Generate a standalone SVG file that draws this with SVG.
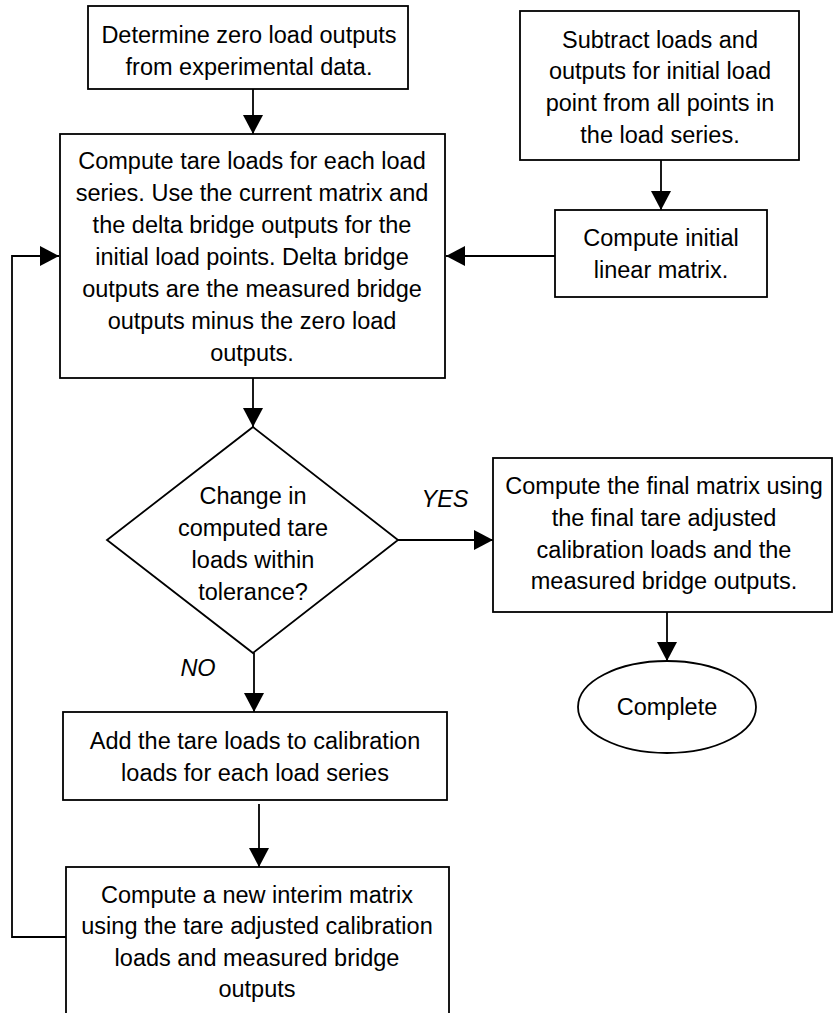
<svg xmlns="http://www.w3.org/2000/svg" width="838" height="1013" viewBox="0 0 838 1013">
<style>
.box{fill:#fff;stroke:#000;stroke-width:1.8}
.ln{fill:none;stroke:#000;stroke-width:1.8}
text{font-family:"Liberation Sans",Arial,sans-serif;font-size:23.5px;fill:#000;text-anchor:middle}
.it{font-style:italic}
</style>
<defs>
<marker id="ah" markerUnits="userSpaceOnUse" markerWidth="19" markerHeight="20" refX="19" refY="10" orient="auto">
<path d="M0,0 L19,10 L0,20 z" fill="#000"/>
</marker>
</defs>
<rect width="838" height="1013" fill="#fff"/>
<g id="connectors">
<line class="ln" x1="253" y1="89" x2="253" y2="134" marker-end="url(#ah)"/>
<line class="ln" x1="661" y1="160" x2="661" y2="210" marker-end="url(#ah)"/>
<line class="ln" x1="555" y1="256" x2="446" y2="256" marker-end="url(#ah)"/>
<polyline class="ln" points="66,937 12,937 12,256 59,256" marker-end="url(#ah)"/>
<line class="ln" x1="253" y1="378" x2="253" y2="427" marker-end="url(#ah)"/>
<line class="ln" x1="398" y1="540" x2="493" y2="540" marker-end="url(#ah)"/>
<line class="ln" x1="667" y1="612" x2="667" y2="661" marker-end="url(#ah)"/>
<line class="ln" x1="254" y1="653" x2="254" y2="712" marker-end="url(#ah)"/>
<line class="ln" x1="259" y1="804" x2="259" y2="867" marker-end="url(#ah)"/>
</g>
<g id="n1">
<rect class="box" x="88" y="6" width="320" height="83"/>
<text x="249" y="43">Determine zero load outputs</text>
<text x="249" y="75">from experimental data.</text>
</g>
<g id="n2">
<rect class="box" x="60" y="134" width="385" height="244"/>
<text x="252" y="169">Compute tare loads for each load</text>
<text x="252" y="201">series. Use the current matrix and</text>
<text x="252" y="233">the delta bridge outputs for the</text>
<text x="252" y="265">initial load points. Delta bridge</text>
<text x="252" y="297">outputs are the measured bridge</text>
<text x="252" y="329">outputs minus the zero load</text>
<text x="252" y="361">outputs.</text>
</g>
<g id="n3">
<rect class="box" x="520" y="11" width="279" height="149"/>
<text x="660" y="48">Subtract loads and</text>
<text x="660" y="79">outputs for initial load</text>
<text x="660" y="111">point from all points in</text>
<text x="660" y="143">the load series.</text>
</g>
<g id="n4">
<rect class="box" x="555" y="210" width="212" height="87"/>
<text x="661" y="246">Compute initial</text>
<text x="661" y="278">linear matrix.</text>
</g>
<g id="n5">
<polygon class="box" points="253,427 398,540 253,653 107,540"/>
<text x="253" y="504">Change in</text>
<text x="253" y="536">computed tare</text>
<text x="253" y="568">loads within</text>
<text x="253" y="600">tolerance?</text>
</g>
<text class="it" x="445" y="507">YES</text>
<text class="it" x="198" y="676">NO</text>
<g id="n6">
<rect class="box" x="493" y="458" width="339" height="154"/>
<text x="664" y="494">Compute the final matrix using</text>
<text x="664" y="526">the final tare adjusted</text>
<text x="664" y="558">calibration loads and the</text>
<text x="664" y="589">measured bridge outputs.</text>
</g>
<g id="n7">
<ellipse class="box" cx="667" cy="707" rx="89" ry="46"/>
<text x="667" y="715">Complete</text>
</g>
<g id="n8">
<rect class="box" x="63" y="712" width="384" height="88"/>
<text x="255" y="749">Add the tare loads to calibration</text>
<text x="255" y="781">loads for each load series</text>
</g>
<g id="n9">
<rect class="box" x="66" y="867" width="383" height="160"/>
<text x="257" y="903">Compute a new interim matrix</text>
<text x="257" y="934">using the tare adjusted calibration</text>
<text x="257" y="966">loads and measured bridge</text>
<text x="257" y="997">outputs</text>
</g>
</svg>
